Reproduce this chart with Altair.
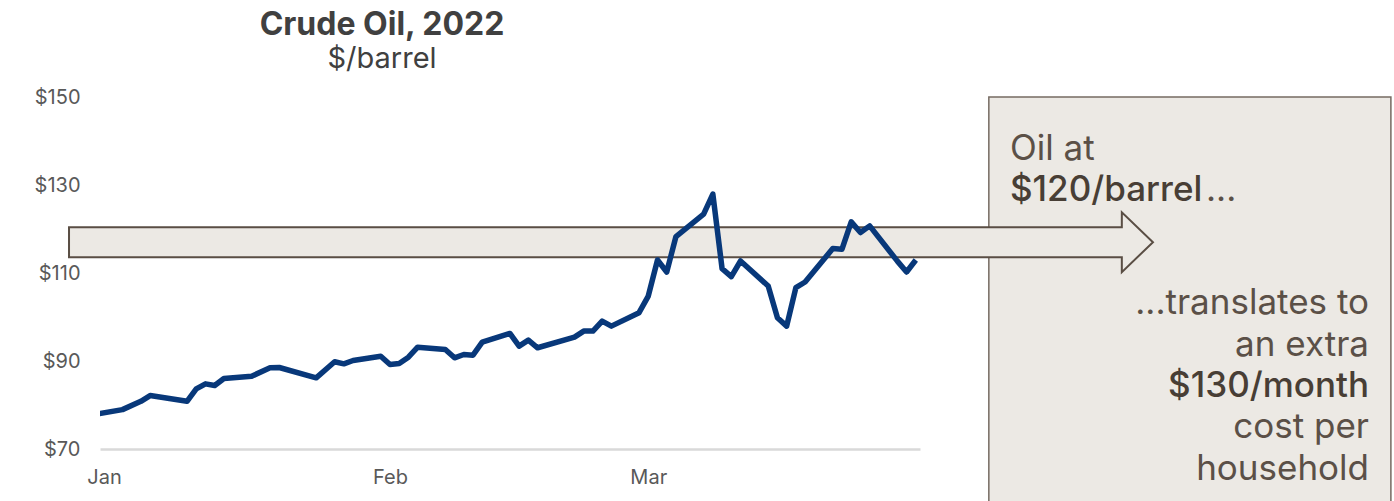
import altair as alt
import pandas as pd

# ---- data (Brent-like crude price, $/barrel) ----
dates = ["2021-12-31", "2022-01-03", "2022-01-05", "2022-01-06", "2022-01-10", "2022-01-11",
         "2022-01-12", "2022-01-13", "2022-01-14", "2022-01-17", "2022-01-19", "2022-01-20",
         "2022-01-24", "2022-01-26", "2022-01-27", "2022-01-28", "2022-01-31", "2022-02-01",
         "2022-02-02", "2022-02-03", "2022-02-04", "2022-02-07", "2022-02-08", "2022-02-09",
         "2022-02-10", "2022-02-11", "2022-02-14", "2022-02-15", "2022-02-16", "2022-02-17",
         "2022-02-21", "2022-02-22", "2022-02-23", "2022-02-24", "2022-02-25", "2022-02-28",
         "2022-03-01", "2022-03-02", "2022-03-03", "2022-03-04", "2022-03-07", "2022-03-08",
         "2022-03-09", "2022-03-10", "2022-03-11", "2022-03-14", "2022-03-15", "2022-03-16",
         "2022-03-17", "2022-03-18", "2022-03-21", "2022-03-22", "2022-03-23", "2022-03-24",
         "2022-03-25", "2022-03-28", "2022-03-29", "2022-03-30"]
prices = [77.86, 78.95, 80.84, 82.14, 80.84, 83.67, 84.81, 84.42, 86.01, 86.54, 88.45, 88.52,
          86.17, 89.82, 89.36, 90.11, 91.09, 89.20, 89.43, 90.87, 93.14, 92.62, 90.73, 91.48,
          91.32, 94.28, 96.26, 93.37, 94.74, 93.01, 95.42, 96.79, 96.79, 99.07, 97.93, 100.98,
          104.76, 112.96, 110.23, 118.29, 123.37, 127.93, 111.00, 109.18, 112.73, 107.04, 99.84,
          97.93, 106.67, 107.95, 115.56, 115.40, 121.62, 119.20, 120.71, 112.70, 110.23, 112.96]

y_ticks = [70, 90, 110, 130, 150]
month_ticks = [1, 2, 3]

title_text = "Crude Oil, 2022"
subtitle_text = "$/barrel"

# arrow band ($/barrel levels) and its extent in time
arrow_x = ["2021-12-28T05:00:00", "2022-04-21T08:00:00", "2022-04-21T08:01:00", "2022-04-24T17:00:00"]
arrow_lo = [113.6, 113.6, 110.2, 117.0]
arrow_hi = [120.4, 120.4, 123.8, 117.0]

# call-out box
box_x = ["2022-04-06T22:00:00"]
box_x2 = ["2022-05-20T12:00:00"]
box_y = [150.0]
box_y2 = [50.0]

# call-out texts
left_lines = ["Oil at"]
left_y = [135.67]
bold_left = ["$120/barrel"]
bold_left_y = [126.40]
left_x = "2022-04-09T05:00:00"
right_lines = ["...translates to", "an extra", "cost per", "household"]
right_y = [100.59, 91.09, 72.51, 62.85]
bold_right = ["$130/month"]
bold_right_y = [81.85]
right_x = "2022-05-18T03:00:00"

# ---- styling ----
FONT = "Inter"
LINE_COLOR = "#08387a"
AXIS_COLOR = "#595959"
BOX_FILL = "#ece9e4"
ARROW_STROKE = "#5a4e44"
BOX_STROKE = "#766b62"
TEXT_REG = "#5b5047"
TEXT_MED = "#483e35"
TXT_SIZE = 35

x_scale = alt.Scale(domain=["2021-12-31T13:36:00", "2022-03-30T10:55:00"])
y_scale = alt.Scale(domain=[70, 150], nice=False, zero=False)

price_df = pd.DataFrame({"date": [d + "T00:00:00" for d in dates], "price": prices})

x_axis = alt.Axis(
    values=[alt.DateTime(year=2022, month=m, date=1) for m in month_ticks],
    format="%b", title=None, grid=False, ticks=False, tickSize=0,
    labelFont=FONT, labelFontSize=20, labelColor=AXIS_COLOR, labelPadding=18,
    labelFlush=False, domainColor="#d9d9d9", domainWidth=2.5,
)
y_axis = alt.Axis(
    values=y_ticks, labelExpr="'$' + datum.value", title=None, grid=False,
    ticks=False, tickSize=0, domain=False,
    labelFont=FONT, labelFontSize=20, labelColor=AXIS_COLOR, labelPadding=20,
)


def X(field):
    return alt.X(field, scale=x_scale, axis=x_axis, title=None)


def Y(field):
    return alt.Y(field, scale=y_scale, axis=y_axis, title=None)


line = alt.Chart(price_df).mark_line(
    color=LINE_COLOR, strokeWidth=5.5, strokeJoin="round", clip=True
).encode(x=X("date:T"), y=Y("price:Q"))

box_df = pd.DataFrame({"x": box_x, "x2": box_x2, "y": box_y, "y2": box_y2})
box = alt.Chart(box_df).mark_rect(fill=BOX_FILL, stroke=BOX_STROKE, strokeWidth=1.5).encode(
    x=X("x:T"), x2="x2:T", y=Y("y:Q"), y2="y2:Q",
)

arrow_df = pd.DataFrame({"x": arrow_x, "lo": arrow_lo, "hi": arrow_hi})
arrow = alt.Chart(arrow_df).mark_area(
    fill=BOX_FILL, stroke=ARROW_STROKE, strokeWidth=2, opacity=1, fillOpacity=1
).encode(x=X("x:T"), y=Y("lo:Q"), y2="hi:Q")


def txt(lines, ys, xval, align, weight, color, dx=0):
    df = pd.DataFrame({"t": lines, "y": ys, "x": [xval] * len(lines)})
    return alt.Chart(df).mark_text(
        align=align, baseline="alphabetic", font=FONT, fontSize=TXT_SIZE,
        fontWeight=weight, color=color, dx=dx
    ).encode(x=X("x:T"), y=Y("y:Q"), text="t:N")


t1 = txt(left_lines, left_y, left_x, "left", 400, TEXT_REG)
t2 = txt(bold_left, bold_left_y, left_x, "left", 500, TEXT_MED)
t2b = txt(["..."], bold_left_y, left_x, "left", 400, TEXT_REG, dx=196)
t3 = txt(right_lines, right_y, right_x, "right", 400, TEXT_REG)
t4 = txt(bold_right, bold_right_y, right_x, "right", 500, TEXT_MED)

chart = alt.layer(box, arrow, line, t1, t2, t2b, t3, t4).properties(
    width=820, height=352,
    padding={"left": 100, "top": 97, "right": 474, "bottom": 52},
    autosize=alt.AutoSizeParams(type="none"),
    background="white",
    title=alt.TitleParams(
        text=title_text, subtitle=subtitle_text, anchor="middle", dx=-128,
        font=FONT, fontSize=32, fontWeight="bold", color="#404040",
        subtitleFont=FONT, subtitleFontSize=29, subtitleColor="#404040",
        subtitlePadding=3, offset=12,
    ),
).configure_view(stroke="transparent", strokeWidth=0)

chart.save("out.html", embed_options={"renderer": "svg", "actions": False})
